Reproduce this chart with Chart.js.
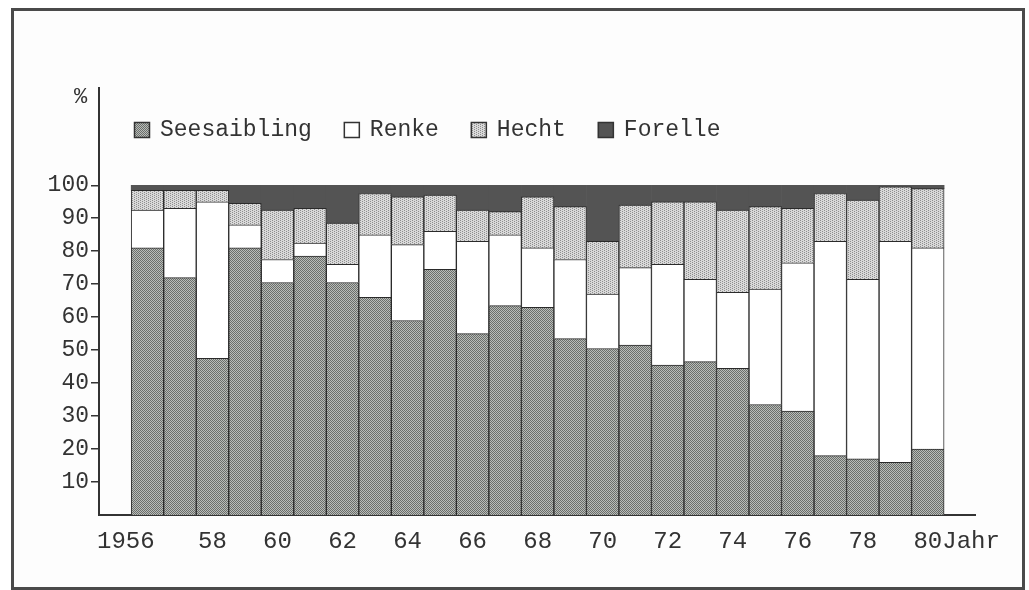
<!doctype html>
<html>

<head>
    <title>Fangertrag</title>
    <script src="https://cdn.jsdelivr.net/npm/chart.js@4/dist/chart.umd.min.js"></script>
    <style>
        body {
            margin: 0;
            background: #ffffff;
        }

        #frame {
            position: absolute;
            left: 11px;
            top: 8px;
            width: 1008px;
            height: 576px;
            border: 3px solid #4a4a4a;
            background: #fdfdfd;
        }

        #container {
            position: absolute;
            left: 0;
            top: 0;
            width: 1029px;
            height: 590px;
        }
    </style>
</head>

<body>
    <div id="frame"></div>
    <div id="container">
        <canvas id="canvas" width="1029" height="590"></canvas>
    </div>
    <script>
        var years = [1956, 1957, 1958, 1959, 1960, 1961, 1962, 1963, 1964, 1965, 1966, 1967, 1968,
            1969, 1970, 1971, 1972, 1973, 1974, 1975, 1976, 1977, 1978, 1979, 1980];
        var seesaibling = [81, 72, 47.5, 81, 70.5, 78.5, 70.5, 66, 59, 74.5, 55, 63.5, 63,
            53.5, 50.5, 51.5, 45.5, 46.5, 44.5, 33.5, 31.5, 18, 17, 16, 20];
        var renke = [11.5, 21, 47.5, 7, 7, 4, 5.5, 19, 23, 11.5, 28, 21.5, 18,
            24, 16.5, 23.5, 30.5, 25, 23, 35, 45, 65, 54.5, 67, 61];
        var hecht = [6, 5.5, 3.5, 6.5, 15, 10.5, 12.5, 12.5, 14.5, 11, 9.5, 7, 15.5,
            16, 16, 19, 19, 23.5, 25, 25, 16.5, 14.5, 24, 16.5, 18];
        var forelle = [1.5, 1.5, 1.5, 5.5, 7.5, 7, 11.5, 2.5, 3.5, 3, 7.5, 8, 3.5,
            6.5, 17, 6, 5, 5, 7.5, 6.5, 7, 2.5, 4.5, 0.5, 1];
        var yTicks = [10, 20, 30, 40, 50, 60, 70, 80, 90, 100];
        var xTicks = [1956, 1958, 1960, 1962, 1964, 1966, 1968, 1970, 1972, 1974, 1976, 1978, 1980];
        var xTickLabels = ['1956   ', '58', '60', '62', '64', '66', '68', '70', '72', '74', '76', '78', '    80Jahr'];

        var monoFont = '"Liberation Mono", "DejaVu Sans Mono", monospace';
        var inkColor = '#333333';

        // kleine Raster fuer die gerasterten Flaechen
        function stipple(base, dot, every) {
            var c = document.createElement('canvas');
            c.width = 4;
            c.height = 4;
            var g = c.getContext('2d');
            g.fillStyle = base;
            g.fillRect(0, 0, 4, 4);
            g.fillStyle = dot;
            for (var y = 0; y < 4; y++) {
                for (var x = 0; x < 4; x++) {
                    if ((x + every * y) % (every * 2) === 0) g.fillRect(x, y, 1, 1);
                }
            }
            return g.createPattern(c, 'repeat');
        }

        var darkStipple = stipple('#b9bcb9', '#6a6e6a', 1);
        var lightStipple = stipple('#d9d9d9', '#8e8e8e', 2);

        function series(values) {
            return values.map(function (v, i) {
                return { x: years[i], y: v };
            });
        }

        var legendPlugin = {
            id: 'fischLegende',
            afterDraw: function (chart) {
                var ctx = chart.ctx;
                ctx.save();
                ctx.fillStyle = inkColor;
                ctx.textBaseline = 'middle';
                ctx.font = '22px ' + monoFont;
                ctx.fillText('%', 74, 97);

                ctx.font = '23px ' + monoFont;
                var x = 134, y = 130;
                chart.data.datasets.forEach(function (ds) {
                    ctx.fillStyle = ds.backgroundColor;
                    ctx.fillRect(x, y - 8, 16, 16);
                    ctx.strokeStyle = inkColor;
                    ctx.lineWidth = 1.5;
                    ctx.strokeRect(x + 0.5, y - 7.5, 15, 15);
                    ctx.fillStyle = inkColor;
                    ctx.fillText(ds.label, x + 26, y);
                    x += 26 + ctx.measureText(ds.label).width + 32;
                });
                ctx.restore();
            }
        };

        window.onload = function () {
            var ctx = document.getElementById('canvas').getContext('2d');
            window.myBar = new Chart(ctx, {
                type: 'bar',
                data: {
                    datasets: [{
                        label: 'Seesaibling',
                        data: series(seesaibling),
                        backgroundColor: darkStipple,
                        borderColor: '#2a2a2a',
                        borderWidth: 1
                    }, {
                        label: 'Renke',
                        data: series(renke),
                        backgroundColor: '#ffffff',
                        borderColor: '#2a2a2a',
                        borderWidth: 1
                    }, {
                        label: 'Hecht',
                        data: series(hecht),
                        backgroundColor: lightStipple,
                        borderColor: '#2a2a2a',
                        borderWidth: 1
                    }, {
                        label: 'Forelle',
                        data: series(forelle),
                        backgroundColor: '#545454',
                        borderColor: '#454545',
                        borderWidth: 0
                    }]
                },
                plugins: [legendPlugin],
                options: {
                    responsive: false,
                    animation: false,
                    barPercentage: 1,
                    categoryPercentage: 1,
                    layout: {
                        padding: { left: 0, right: 54, top: 88, bottom: 25 }
                    },
                    plugins: {
                        legend: { display: false },
                        tooltip: { enabled: false }
                    },
                    scales: {
                        x: {
                            type: 'linear',
                            stacked: true,
                            min: 1954.51,
                            max: 1981.45,
                            offset: false,
                            afterBuildTicks: function (scale) {
                                scale.ticks = xTicks.map(function (v) { return { value: v }; });
                            },
                            afterFit: function (scale) {
                                scale.height = 50;
                            },
                            grid: { drawOnChartArea: false, drawTicks: false },
                            border: { display: true, color: inkColor, width: 2 },
                            ticks: {
                                autoSkip: false,
                                maxRotation: 0,
                                padding: 12,
                                color: inkColor,
                                font: { family: monoFont, size: 24 },
                                callback: function (value) {
                                    return xTickLabels[xTicks.indexOf(value)];
                                }
                            }
                        },
                        y: {
                            stacked: true,
                            min: 0,
                            max: 129.5,
                            afterBuildTicks: function (scale) {
                                scale.ticks = yTicks.map(function (v) { return { value: v }; });
                            },
                            afterFit: function (scale) {
                                scale.width = 99;
                            },
                            grid: { drawOnChartArea: false, drawTicks: true, tickLength: 8, color: inkColor, lineWidth: 1.5 },
                            border: { display: true, color: inkColor, width: 2 },
                            ticks: {
                                padding: 2,
                                color: inkColor,
                                font: { family: monoFont, size: 23 }
                            }
                        }
                    }
                }
            });
        };
    </script>
</body>

</html>
